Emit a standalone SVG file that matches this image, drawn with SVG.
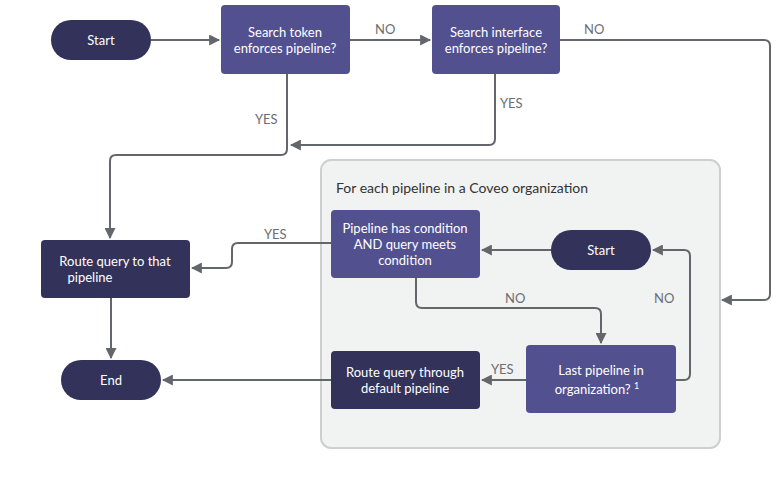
<svg xmlns="http://www.w3.org/2000/svg" width="780" height="480" viewBox="0 0 780 480">
<style>
.p{fill:#52508f}.d{fill:#33325a}
.t{font-family:Lato,"Liberation Sans",sans-serif;font-size:13px;fill:#fff;text-anchor:middle}
.l{font-family:Lato,"Liberation Sans",sans-serif;font-size:13px;fill:#6b6e72}
.c path{fill:none;stroke:#63666b;stroke-width:2;marker-end:url(#a)}
</style>
<defs><marker id="a" viewBox="0 0 10 10" refX="9" refY="5" markerWidth="5.5" markerHeight="5.5" orient="auto"><path d="M0,0L10,5L0,10z" fill="#63666b"/></marker></defs>
<rect width="780" height="480" fill="#fff"/>
<g id="container"><rect x="321" y="160" width="399" height="288" rx="10" fill="#f1f2f2" stroke="#cdcfd0" stroke-width="2"/>
<text x="336" y="193" class="l" style="fill:#333;font-size:14px">For each pipeline in a Coveo organization</text></g>
<g class="c">
<path d="M151,40H219"/>
<path d="M350,40H430"/>
<path d="M560,40H764Q770,40 770,46V294Q770,300 764,300H722"/>
<path d="M287,74V149Q287,155 281,155H116Q110,155 110,161V238"/>
<path d="M495,74V139Q495,145 489,145H291"/>
<path d="M331,243H238Q232,243 232,249V262Q232,268 226,268H192"/>
<path d="M551,250H482"/>
<path d="M416,278V302Q416,308 422,308H595Q601,308 601,314V343"/>
<path d="M676,380H684Q690,380 690,374V256Q690,250 684,250H653"/>
<path d="M526,380H482"/>
<path d="M331,380H163"/>
<path d="M111,298V358"/>
</g>
<g class="l"><text x="375" y="34">NO</text><text x="584" y="34">NO</text><text x="255" y="124">YES</text><text x="500" y="108">YES</text><text x="264" y="239">YES</text><text x="505" y="303">NO</text><text x="654" y="303">NO</text><text x="491" y="374">YES</text></g>
<g id="start"><rect class="d" x="51" y="20" width="100" height="40" rx="20"/><text class="t" x="101" y="45">Start</text></g>
<g id="token"><rect class="p" x="221" y="5" width="129" height="69" rx="4"/><text class="t" x="285" y="37">Search token</text><text class="t" x="285" y="53">enforces pipeline?</text></g>
<g id="iface"><rect class="p" x="432" y="5" width="128" height="69" rx="4"/><text class="t" x="496" y="37">Search interface</text><text class="t" x="496" y="53">enforces pipeline?</text></g>
<g id="cond"><rect class="p" x="331" y="210" width="149" height="68" rx="4"/><text class="t" x="405" y="233">Pipeline has condition</text><text class="t" x="405" y="249">AND query meets</text><text class="t" x="405" y="265">condition</text></g>
<g id="start2"><rect class="d" x="551" y="230" width="100" height="40" rx="20"/><text class="t" x="601" y="255">Start</text></g>
<g id="last"><rect class="p" x="526" y="345" width="150" height="68" rx="4"/><text class="t" x="601" y="375">Last pipeline in</text><text class="t" x="597" y="394">organization? <tspan font-size="9" dy="-5">1</tspan></text></g>
<g id="default"><rect class="d" x="331" y="351" width="149" height="58" rx="4"/><text class="t" x="405" y="377">Route query through</text><text class="t" x="405" y="393">default pipeline</text></g>
<g id="route"><rect class="d" x="41" y="240" width="149" height="58" rx="4"/><text class="t" x="115" y="266">Route query to that</text><text class="t" x="90" y="282">pipeline</text></g>
<g id="end"><rect class="d" x="61" y="360" width="100" height="40" rx="20"/><text class="t" x="111" y="385">End</text></g>
</svg>
